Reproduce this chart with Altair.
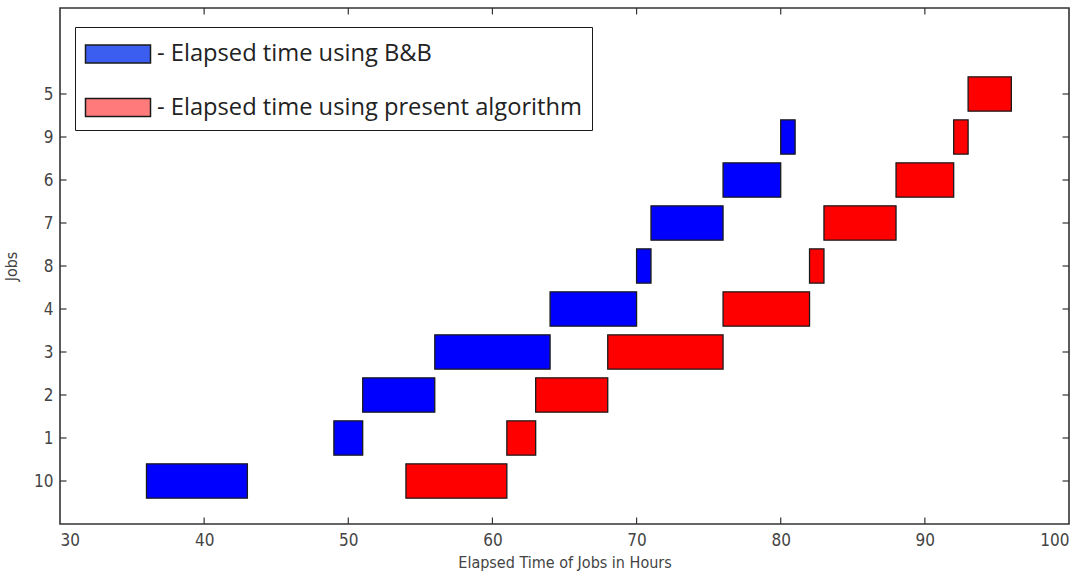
import altair as alt
import pandas as pd

# ---- data ----
jobs_order = ["10", "1", "2", "3", "4", "8", "7", "6", "9", "5"]   # bottom -> top

bb_jobs = ["10", "1", "2", "3", "4", "8", "7", "6", "9"]
bb_start = [36, 49, 51, 56, 64, 70, 71, 76, 80]
bb_end = [43, 51, 56, 64, 70, 71, 76, 80, 81]

pa_jobs = ["10", "1", "2", "3", "4", "8", "7", "6", "9", "5"]
pa_start = [54, 61, 63, 68, 76, 82, 83, 88, 92, 93]
pa_end = [61, 63, 68, 76, 82, 83, 88, 92, 93, 96]

x_ticks = [30, 40, 50, 60, 70, 80, 90, 100]

label_bb = "- Elapsed time using B&B"
label_pa = "- Elapsed time using present algorithm"

rows = []
for j, s, e in zip(bb_jobs, bb_start, bb_end):
    p = jobs_order.index(j) + 1
    rows.append(dict(job=j, start=s, end=e, y0=p - 0.4, y1=p + 0.4,
                     method=label_bb, fill="#0000ff"))
for j, s, e in zip(pa_jobs, pa_start, pa_end):
    p = jobs_order.index(j) + 1
    rows.append(dict(job=j, start=s, end=e, y0=p - 0.4, y1=p + 0.4,
                     method=label_pa, fill="#ff0000"))
df = pd.DataFrame(rows)

xticks_df = pd.DataFrame({"v": x_ticks[1:-1]})
yticks_df = pd.DataFrame({"v": list(range(1, len(jobs_order) + 1))})

label_font = "Liberation Sans Narrow, DejaVu Sans Condensed, sans-serif"
W, H = 1009, 516

xscale = alt.Scale(domain=[30, 100], nice=False, zero=False)
yscale = alt.Scale(domain=[0, 12], nice=False, zero=False)

label_expr = "[''," + ",".join("'%s'" % j for j in jobs_order) + "][datum.value]"

xenc = alt.X("start:Q", scale=xscale,
             axis=alt.Axis(values=x_ticks, ticks=False, domain=False, grid=False,
                           title="Elapsed Time of Jobs in Hours",
                           labelFont=label_font, labelFontSize=17, labelColor="#444",
                           labelPadding=8, titleFont=label_font, titleFontSize=16,
                           titleFontWeight="normal", titleColor="#444", titlePadding=6))
yenc = alt.Y("y0:Q", scale=yscale,
             axis=alt.Axis(values=list(range(1, len(jobs_order) + 1)), labelExpr=label_expr,
                           ticks=False, domain=False, grid=False, title="Jobs",
                           labelFont=label_font, labelFontSize=17, labelColor="#444",
                           labelPadding=7, titleFont=label_font, titleFontSize=16,
                           titleFontWeight="normal", titleColor="#444", titlePadding=14))

bars = alt.Chart(df).mark_bar(stroke="#1a1a1a", strokeWidth=1.3).encode(
    x=xenc, x2="end:Q", y=yenc, y2="y1:Q",
    fill=alt.Fill("fill:N", scale=None),
)

legend_layer = alt.Chart(df).mark_bar(opacity=0).encode(
    x=alt.X("start:Q", scale=xscale), x2="end:Q",
    y=alt.Y("y0:Q", scale=yscale), y2="y1:Q",
    color=alt.Color("method:N",
                    scale=alt.Scale(domain=[label_bb, label_pa], range=["#3b5ef0", "#ff7b7b"]),
                    legend=alt.Legend(title=None, orient="none", legendX=15, legendY=19,
                                      symbolType="M-2,-0.56H2V0.56H-2Z", symbolSize=1056.25,
                                      symbolOffset=16, symbolOpacity=1,
                                      symbolStrokeColor="#1a1a1a", symbolStrokeWidth=1.5,
                                      labelFont="Open Sans", labelFontSize=23.7,
                                      labelColor="#222", labelLimit=700,
                                      labelOffset=22, rowPadding=23.5, padding=10,
                                      strokeColor="#1a1a1a", fillColor="white")),
)

tick_rule = dict(color="#333", strokeWidth=1.2)
bottom_ticks = alt.Chart(xticks_df).mark_rule(**tick_rule).encode(
    x=alt.X("v:Q", scale=xscale), y=alt.datum(0, scale=yscale), y2=alt.datum(0.15))
top_ticks = alt.Chart(xticks_df).mark_rule(**tick_rule).encode(
    x=alt.X("v:Q", scale=xscale), y=alt.datum(12, scale=yscale), y2=alt.datum(11.85))
left_ticks = alt.Chart(yticks_df).mark_rule(**tick_rule).encode(
    y=alt.Y("v:Q", scale=yscale), x=alt.datum(30, scale=xscale), x2=alt.datum(30.45))
right_ticks = alt.Chart(yticks_df).mark_rule(**tick_rule).encode(
    y=alt.Y("v:Q", scale=yscale), x=alt.datum(100, scale=xscale), x2=alt.datum(99.55))

chart = alt.layer(bars, legend_layer, bottom_ticks, top_ticks, left_ticks, right_ticks).properties(
    width=W, height=H,
    autosize=alt.AutoSizeParams(type="none"),
    padding={"left": 60, "top": 8, "right": 19, "bottom": 55},
    background="white",
).configure_view(stroke="#333", strokeWidth=1.6)

chart.save("out.html", embed_options={"renderer": "svg", "actions": False})
